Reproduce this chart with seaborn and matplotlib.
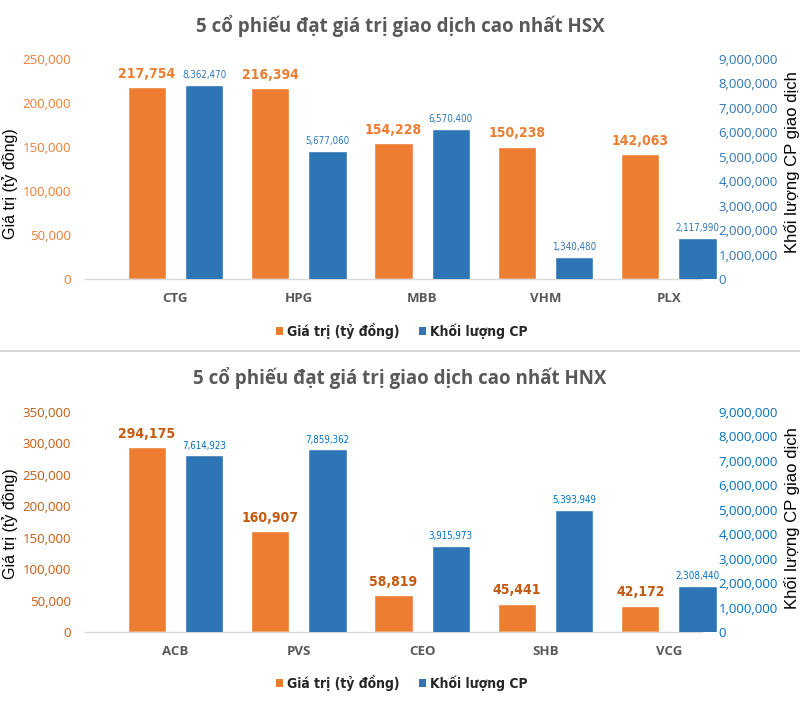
import numpy as np
import pandas as pd
import matplotlib
matplotlib.use("Agg")
import matplotlib.pyplot as plt
import seaborn as sns
from matplotlib.patches import Patch
from matplotlib.lines import Line2D

# ---------------- data ----------------
hsx_title = "5 cổ phiếu đạt giá trị giao dịch cao nhất HSX"
hsx_codes = ["CTG", "HPG", "MBB", "VHM", "PLX"]
hsx_value = [217754, 216394, 154228, 150238, 142063]
hsx_volume = [8362470, 5677060, 6570400, 1340480, 2117990]

hnx_title = "5 cổ phiếu đạt giá trị giao dịch cao nhất HNX"
hnx_codes = ["ACB", "PVS", "CEO", "SHB", "VCG"]
hnx_value = [294175, 160907, 58819, 45441, 42172]
hnx_volume = [7614923, 7859362, 3915973, 5393949, 2308440]

series_names = ["Giá trị (tỷ đồng)", "Khối lượng CP"]
left_label = "Giá trị (tỷ đồng)"
right_label = "Khối lượng CP giao dịch"

hsx_left_ticks = [0, 50000, 100000, 150000, 200000, 250000]
hnx_left_ticks = [0, 50000, 100000, 150000, 200000, 250000, 300000, 350000]
right_ticks = [0, 1000000, 2000000, 3000000, 4000000, 5000000,
               6000000, 7000000, 8000000, 9000000]

# ---------------- style ----------------
sns.set_theme(style="white")
plt.rcParams["font.family"] = ["Open Sans", "DejaVu Sans"]
NARROW = ["DejaVu Sans"]
ARIAL = ["Liberation Sans", "DejaVu Sans"]

ORANGE = "#ED7D31"
BLUE = "#2E75B6"
palette = {series_names[0]: ORANGE, series_names[1]: BLUE}

fig = plt.figure(figsize=(8.0, 7.28), dpi=100)
W, H = 800.0, 728.0

AX_L, AX_R = 85.0, 717.0
XLIM = (-0.733, 4.39)
BASE_END = 4.271


def panel(top_px, base_px, title, title_y, codes, values, volumes,
          left_ticks, vol_base, lt_color, rt_color, vl_color, ql_color,
          ylab_left_y, ylab_right_y, legend_y):
    rect = [AX_L / W, (H - base_px) / H, (AX_R - AX_L) / W, (base_px - top_px) / H]
    ax = fig.add_axes(rect)
    ax2 = ax.twinx()

    df_v = pd.DataFrame({"code": codes, "series": series_names[0], "amount": values})
    df_q = pd.DataFrame({"code": codes, "series": series_names[1], "amount": volumes})

    sns.barplot(data=df_v, x="code", y="amount", hue="series", hue_order=series_names,
                order=codes, palette=palette, width=0.928, gap=0.33, saturation=1,
                dodge=True, errorbar=None, legend=False, ax=ax)
    sns.barplot(data=df_q, x="code", y="amount", hue="series", hue_order=series_names,
                order=codes, palette=palette, width=0.928, gap=0.33, saturation=1,
                dodge=True, errorbar=None, legend=False, ax=ax2)

    ax.set_xlim(*XLIM)
    ax.set_ylim(left_ticks[0], left_ticks[-1])
    ax.set_yticks(left_ticks)
    ax.set_yticklabels([f"{t:,}" for t in left_ticks])
    ax2.set_ylim(vol_base, vol_base + right_ticks[-1])
    ax2.set_yticks([vol_base + t for t in right_ticks])
    ax2.set_yticklabels([f"{t:,}" for t in right_ticks])

    ax.set_xticks(range(len(codes)))
    ax.set_xticklabels(codes, fontsize=9.5, fontweight="bold", color="#595959")
    ax.set_xlabel("")
    ax.tick_params(axis="x", length=0, pad=9)
    ax.tick_params(axis="y", length=0, pad=10, labelsize=9.5, labelcolor=lt_color)
    ax2.tick_params(axis="y", length=0, pad=1, labelsize=9.5, labelcolor=rt_color)

    for s in ["top", "right", "left"]:
        ax.spines[s].set_visible(False)
    ax.spines["bottom"].set_color("#D9D9D9")
    ax.spines["bottom"].set_linewidth(1.0)
    ax.spines["bottom"].set_bounds(XLIM[0], BASE_END)
    for s in ax2.spines.values():
        s.set_visible(False)

    ax.set_ylabel(left_label, fontsize=11.5, family=ARIAL, color="black")
    ax.yaxis.set_label_coords(-0.1055, ylab_left_y)
    ax2.set_ylabel(right_label, fontsize=12, family=ARIAL, color="black")
    ax2.yaxis.set_label_coords(1.106, ylab_right_y)

    for c in ax.containers:
        hs = [b.get_height() for b in c]
        if len(hs) and all(np.isfinite(hs)):
            ax.bar_label(c, labels=[f"{int(v):,}" for v in values], padding=4.5,
                         fontsize=10, fontweight="bold", color=vl_color,
                         family=NARROW, fontstretch="condensed")
    for c in ax2.containers:
        hs = [b.get_height() for b in c]
        if len(hs) and all(np.isfinite(hs)):
            ax2.bar_label(c, labels=[f"{int(v):,}" for v in volumes], padding=3.5,
                          fontsize=7, color=ql_color, family=NARROW,
                          fontstretch="condensed")

    fig.text(0.5, (H - title_y) / H, title, ha="center", va="center",
             fontsize=13.5, fontweight="bold", color="#595959")

    handles = [Patch(facecolor=ORANGE, edgecolor="none"), Patch(facecolor=BLUE, edgecolor="none")]
    fig.legend(handles=handles, labels=series_names, loc="center",
               bbox_to_anchor=(0.502, (H - legend_y) / H), ncol=2, frameon=False,
               handlelength=0.5, handleheight=0.5, handletextpad=0.3, columnspacing=1.4,
               prop={"family": NARROW, "size": 10, "weight": "bold", "stretch": "condensed"})
    return ax, ax2


panel(58.7, 279.3, hsx_title, 26, hsx_codes, hsx_value, hsx_volume, hsx_left_ticks,
      430000, ORANGE, BLUE, ORANGE, BLUE, 0.434, 0.53, 331)
panel(411.7, 632.3, hnx_title, 378, hnx_codes, hnx_value, hnx_volume, hnx_left_ticks,
      400000, "#C55A11", "#0070C0", "#C55A11", "#0070C0", 0.493, 0.52, 682.7)

fig.add_artist(Line2D([0, 1], [(H - 351) / H, (H - 351) / H], transform=fig.transFigure,
                      color="#D9D9D9", linewidth=1.5))

fig.savefig("out.png", dpi=100, facecolor="white")
